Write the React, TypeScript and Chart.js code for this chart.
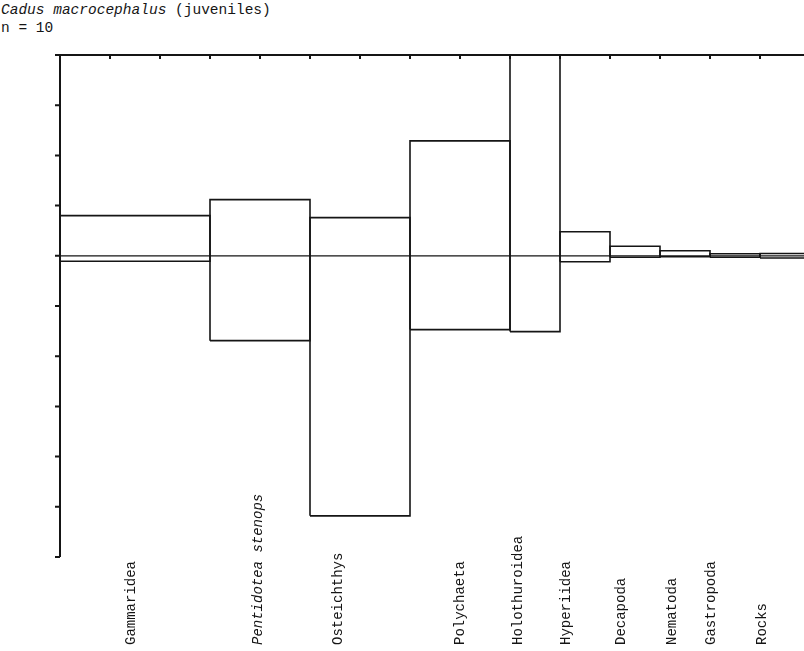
import React, { useEffect, useRef } from "react";
import { Chart, registerables } from "chart.js";

Chart.register(...registerables);

const titleSpecies = "Cadus macrocephalus";
const titleStage = " (juveniles)";
const sampleLabel = "n = 10";

const categories = [
  "Gammaridea",
  "Pentidotea stenops",
  "Osteichthys",
  "Polychaeta",
  "Holothuroidea",
  "Hyperiidea",
  "Decapoda",
  "Nematoda",
  "Gastropoda",
  "Rocks",
];
const italicCategories = [false, true, false, false, false, false, false, false, false, false];
// width of each block (% frequency of occurrence)
const frequencyOccurrence = [30, 20, 20, 20, 10, 10, 10, 10, 10, 10];
// above the zero line (% number)
const percentNumber = [8.0, 11.2, 7.6, 22.9, 40, 4.8, 1.9, 1.0, 0.4, 0.45];
// below the zero line (% weight)
const percentWeight = [1.1, 16.9, 51.8, 14.7, 15.1, 1.2, 0.3, 0.2, 0.3, 0.45];
// where each category name sits along the x axis (same units as the x axis)
const labelAnchors = [14.2, 39.6, 55.6, 80, 91.6, 101.2, 112.2, 122.4, 130.2, 140.4];

const xMin = 0;
const xMax = 148.8;
const xStep = 10;
const yMin = -60;
const yMax = 40;
const yStep = 10;

const FONT = "'Liberation Mono', 'DejaVu Sans Mono', monospace";
const INK = "#151515";

function starts(): number[] {
  const s: number[] = [];
  let acc = 0;
  frequencyOccurrence.forEach((w) => {
    s.push(acc);
    acc += w;
  });
  return s;
}

const decorPlugin = {
  id: "decor",
  afterDraw(chart: any) {
    const { ctx, chartArea: a, scales } = chart;
    const x = scales.x;
    const y = scales.y;
    ctx.save();
    ctx.strokeStyle = INK;
    ctx.lineCap = "butt";

    // zero line
    ctx.lineWidth = 1.2;
    const y0 = y.getPixelForValue(0);
    ctx.beginPath();
    ctx.moveTo(a.left, y0);
    ctx.lineTo(a.right, y0);
    ctx.stroke();

    // axes
    ctx.lineWidth = 2;
    ctx.beginPath();
    ctx.moveTo(a.left, a.top);
    ctx.lineTo(a.left, a.bottom);
    ctx.moveTo(a.left - 1, a.top);
    ctx.lineTo(a.right, a.top);
    ctx.stroke();

    // y ticks (outward, left)
    ctx.lineWidth = 2;
    ctx.beginPath();
    for (let v = yMin; v <= yMax + 1e-9; v += yStep) {
      const py = y.getPixelForValue(v);
      ctx.moveTo(a.left - 5, py);
      ctx.lineTo(a.left, py);
    }
    // x ticks (inward from top)
    for (let v = xMin + xStep; v <= xMax + 1e-9; v += xStep) {
      const px = x.getPixelForValue(v);
      ctx.moveTo(px, a.top);
      ctx.lineTo(px, a.top + 4);
    }
    ctx.stroke();

    // category labels
    ctx.fillStyle = INK;
    ctx.textBaseline = "middle";
    ctx.textAlign = "left";
    categories.forEach((c, i) => {
      const cx = x.getPixelForValue(labelAnchors[i]);
      ctx.save();
      ctx.translate(cx, a.bottom + 88);
      ctx.rotate(-Math.PI / 2);
      ctx.font = (italicCategories[i] ? "italic " : "") + "14px " + FONT;
      ctx.fillText(c, 0, 0);
      ctx.restore();
    });
    ctx.restore();
  },
};

export default function App() {
  const canvasRef = useRef<HTMLCanvasElement | null>(null);

  useEffect(() => {
    if (!canvasRef.current) return;
    const s = starts();
    const datasets = categories.map((c, i) => {
      const x0 = s[i];
      const x1 = s[i] + frequencyOccurrence[i];
      const top = percentNumber[i];
      const bot = -percentWeight[i];
      return {
        label: c,
        data: [
          { x: x0, y: bot },
          { x: x0, y: top },
          { x: x1, y: top },
          { x: x1, y: bot },
          { x: x0, y: bot },
        ],
        showLine: true,
        borderColor: INK,
        borderWidth: 1.6,
        pointRadius: 0,
        pointHoverRadius: 0,
        fill: false,
        tension: 0,
      };
    });

    const chart = new Chart(canvasRef.current, {
      type: "scatter",
      data: { datasets },
      options: {
        animation: false,
        responsive: false,
        maintainAspectRatio: false,
        layout: { padding: { left: 60, top: 55, right: 0, bottom: 94 } },
        plugins: {
          legend: { display: false },
          tooltip: { enabled: false },
          title: { display: false },
        },
        scales: {
          x: { type: "linear", display: false, min: xMin, max: xMax },
          y: { type: "linear", display: false, min: yMin, max: yMax },
        },
      },
      plugins: [decorPlugin],
    });
    return () => chart.destroy();
  }, []);

  return (
    <div
      style={{
        position: "fixed",
        left: 0,
        top: 0,
        width: 804,
        height: 651,
        background: "#fff",
        overflow: "hidden",
      }}
    >
      <div
        style={{
          position: "absolute",
          left: 1,
          top: 1,
          fontFamily: FONT,
          fontSize: 14.5,
          lineHeight: "18px",
          color: INK,
          whiteSpace: "pre",
        }}
      >
        <div>
          <span style={{ fontStyle: "italic" }}>{titleSpecies}</span>
          {titleStage}
        </div>
        <div>{sampleLabel}</div>
      </div>
      <canvas
        ref={canvasRef}
        width={804}
        height={651}
        style={{ position: "absolute", left: 0, top: 0, width: 804, height: 651 }}
      />
    </div>
  );
}
